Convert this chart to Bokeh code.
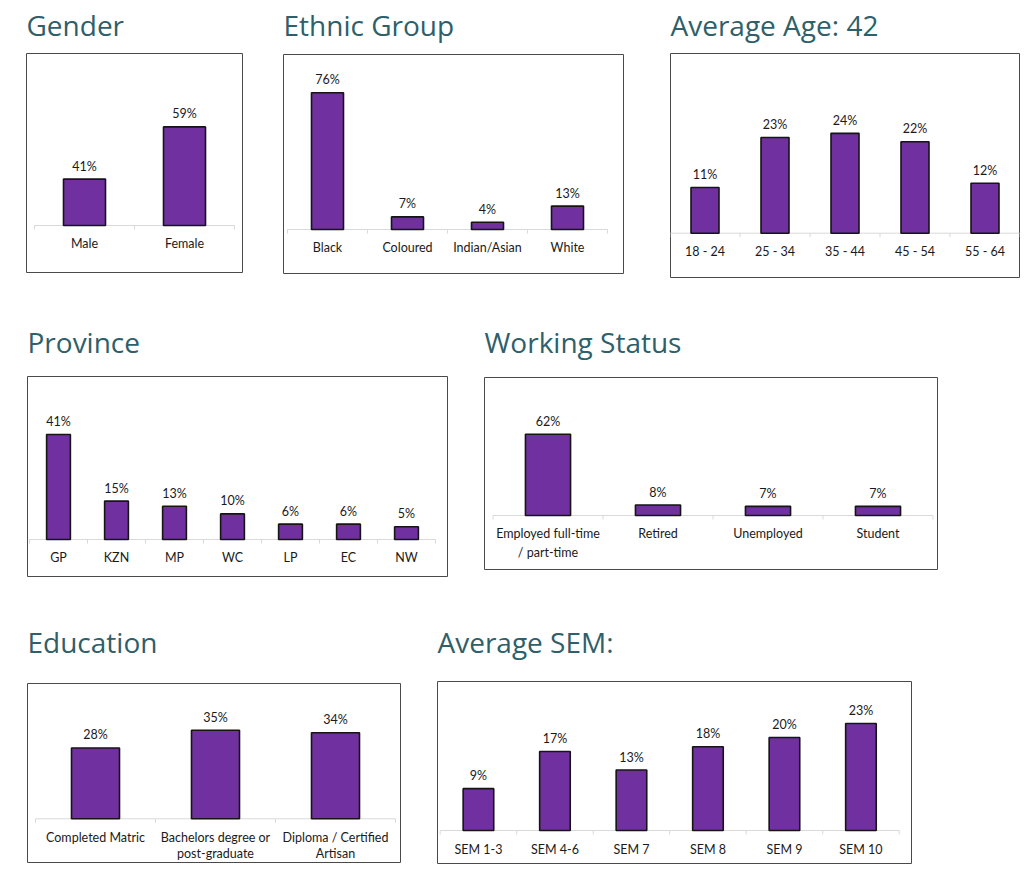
import numpy as np
from bokeh.plotting import figure
from bokeh.models import Range1d, Spacer, ColumnDataSource
from bokeh.layouts import row, column
from bokeh.core.properties import value
from bokeh.embed import file_html
from bokeh.resources import INLINE

# ---------------- data ----------------
gender_title = "Gender"
gender_cats = ["Male", "Female"]
gender_vals = [41, 59]

ethnic_title = "Ethnic Group"
ethnic_cats = ["Black", "Coloured", "Indian/Asian", "White"]
ethnic_vals = [76, 7, 4, 13]

age_title = "Average Age: 42"
age_cats = ["18 - 24", "25 - 34", "35 - 44", "45 - 54", "55 - 64"]
age_vals = [11, 23, 24, 22, 12]

province_title = "Province"
province_cats = ["GP", "KZN", "MP", "WC", "LP", "EC", "NW"]
province_vals = [41, 15, 13, 10, 6, 6, 5]

work_title = "Working Status"
work_cats = ["Employed full-time\n/ part-time", "Retired", "Unemployed", "Student"]
work_vals = [62, 8, 7, 7]

edu_title = "Education"
edu_cats = ["Completed Matric", "Bachelors degree or\npost-graduate", "Diploma / Certified\nArtisan"]
edu_vals = [28, 35, 34]

sem_title = "Average SEM:"
sem_cats = ["SEM 1-3", "SEM 4-6", "SEM 7", "SEM 8", "SEM 9", "SEM 10"]
sem_vals = [9, 17, 13, 18, 20, 23]

# ---------------- layout / style ----------------
PURPLE = "#7030A0"
TEAL = "#2E5F6A"
TITLE_FONT = "Open Sans"
LABEL_FONT = "Lato"
SMALL = 12.5
MH = 14.8      # bokeh text-box line height for SMALL Lato
H_TITLE = 38   # title text box height used by bokeh
DESC = 8       # title descent
MB = 2
ORIGIN = 0     # page origin of the root layout

# box = (left, right, top, bottom) page px ; yb baseline px ; s px per % ; v0 axis minimum
G_GENDER = dict(box=(26, 242, 53, 272), yb=225, s=2.9, v0=25, x0=34, cw=100, bw=0.42, ly=243, lp=16, tgap=18)
G_ETHNIC = dict(box=(283, 623, 54, 273), yb=229, s=1.8, v0=0, x0=287, cw=80, bw=0.40, ly=247, lp=16, tgap=19)
G_AGE = dict(box=(670, 1019, 53, 277), yb=232.7, s=4.16, v0=0, x0=669.5, cw=70, bw=0.40, ly=251, lp=16, tgap=18)
G_PROV = dict(box=(27, 447, 376, 576), yb=539, s=2.56, v0=0, x0=29, cw=58, bw=0.41, ly=556.7, lp=16, tgap=24)
G_WORK = dict(box=(484, 937, 377, 569), yb=515, s=1.31, v0=0, x0=492.5, cw=110, bw=0.41, ly=533.3, lp=18.4, tgap=25)
G_EDU = dict(box=(27, 400, 683, 862), yb=818.3, s=2.53, v0=0, x0=35, cw=120, bw=0.40, ly=836.7, lp=16.6, tgap=31)
G_SEM = dict(box=(437, 911, 681, 863), yb=830, s=4.65, v0=0, x0=439.7, cw=76.5, bw=0.40, ly=849, lp=16, tgap=29)


def standoff_of(g):
    return max(0, int(round(2 * (g["tgap"] - DESC))))


def make_chart(title, cats, vals, g):
    n = len(cats)
    L, R, T, B = g["box"]
    yb, s, v0 = g["yb"], g["s"], g["v0"]
    x0, cw = g["x0"], g["cw"]
    xr = Range1d((L - x0) / cw, (R - x0) / cw)
    yr = Range1d(v0 - (B - yb) / s, v0 + (yb - T) / s)
    p = figure(frame_width=int(round(R - L)), frame_height=int(round(B - T)),
               x_range=xr, y_range=yr, x_axis_location=None, y_axis_location=None,
               toolbar_location=None, output_backend="svg", title=title,
               min_border_left=MB, min_border_right=MB, min_border_bottom=MB, min_border_top=0)
    p.title.text_font = TITLE_FONT
    p.title.text_font_size = "28px"
    p.title.text_font_style = "normal"
    p.title.text_color = TEAL
    p.title.standoff = standoff_of(g)
    p.title.offset = 0
    p.grid.grid_line_color = None
    p.outline_line_color = "#4a4a4a"
    p.outline_line_width = 1
    p.background_fill_color = "white"
    p.border_fill_color = "white"

    xs = np.arange(n) + 0.5
    bounds = np.arange(n + 1)
    # baseline and boundary ticks
    p.line(x=[bounds[0], bounds[-1]], y=[v0, v0], line_color="#d9d9d9", line_width=1)
    p.segment(x0=bounds, y0=[v0] * (n + 1), x1=bounds, y1=[v0 - 4 / s] * (n + 1),
              line_color="#d9d9d9", line_width=1)

    nlines = np.array([c.count("\n") + 1 for c in cats])
    lh = g["lp"] / MH
    cy_px = g["ly"] + (nlines - 1) * g["lp"] / 2
    cy = v0 - (cy_px - yb) / s
    src = ColumnDataSource(dict(x=xs, top=vals, cat=cats, lab=[f"{v}%" for v in vals], cy=cy))
    p.vbar(x="x", top="top", bottom=v0, width=g["bw"], source=src,
           fill_color=PURPLE, line_color="#151515", line_width=1.6)
    p.text(x="x", y="top", text="lab", source=src, text_align="center",
           text_baseline="alphabetic", y_offset=-13, text_font=value(LABEL_FONT),
           text_font_size=f"{SMALL}px", text_color="#1a1a1a")
    p.text(x="x", y="cy", text="cat", source=src, text_align="center",
           text_baseline="middle", text_line_height=lh, text_font=value(LABEL_FONT),
           text_font_size=f"{SMALL}px", text_color="#1a1a1a")
    return p


charts = [
    [(gender_title, gender_cats, gender_vals, G_GENDER),
     (ethnic_title, ethnic_cats, ethnic_vals, G_ETHNIC),
     (age_title, age_cats, age_vals, G_AGE)],
    [(province_title, province_cats, province_vals, G_PROV),
     (work_title, work_cats, work_vals, G_WORK)],
    [(edu_title, edu_cats, edu_vals, G_EDU),
     (sem_title, sem_cats, sem_vals, G_SEM)],
]


def canvas_box(g):
    L, R, T, B = g["box"]
    S = 2 + H_TITLE + standoff_of(g)
    return (L - MB, R + MB, T - S, B + MB)


first_top = min(canvas_box(c[3])[2] for c in charts[0])
K = max(0, int(round(ORIGIN - first_top)))
y_cursor = ORIGIN - K
children = []
for rspec in charts:
    boxes = [canvas_box(c[3]) for c in rspec]
    y_r = min(b[2] for b in boxes)
    gap = int(round(y_r - y_cursor))
    if gap > 0:
        children.append(Spacer(width=10, height=gap))
        y_cursor += gap
    items = []
    x_cursor = ORIGIN
    for c, b in zip(rspec, boxes):
        dx = int(round(b[0] - x_cursor))
        if dx > 0:
            items.append(Spacer(width=dx, height=1))
        fig = make_chart(*c)
        dy = int(round(b[2] - y_cursor))
        if dy > 0:
            items.append(column(Spacer(width=10, height=dy), fig))
        else:
            items.append(fig)
        x_cursor = b[1]
    children.append(row(*items))
    y_cursor = max(b[3] for b in boxes)

root = column(*children)
if K > 0:
    root.margin = (-K, 0, 0, 0)

open("out.html", "w").write(file_html(root, INLINE))
